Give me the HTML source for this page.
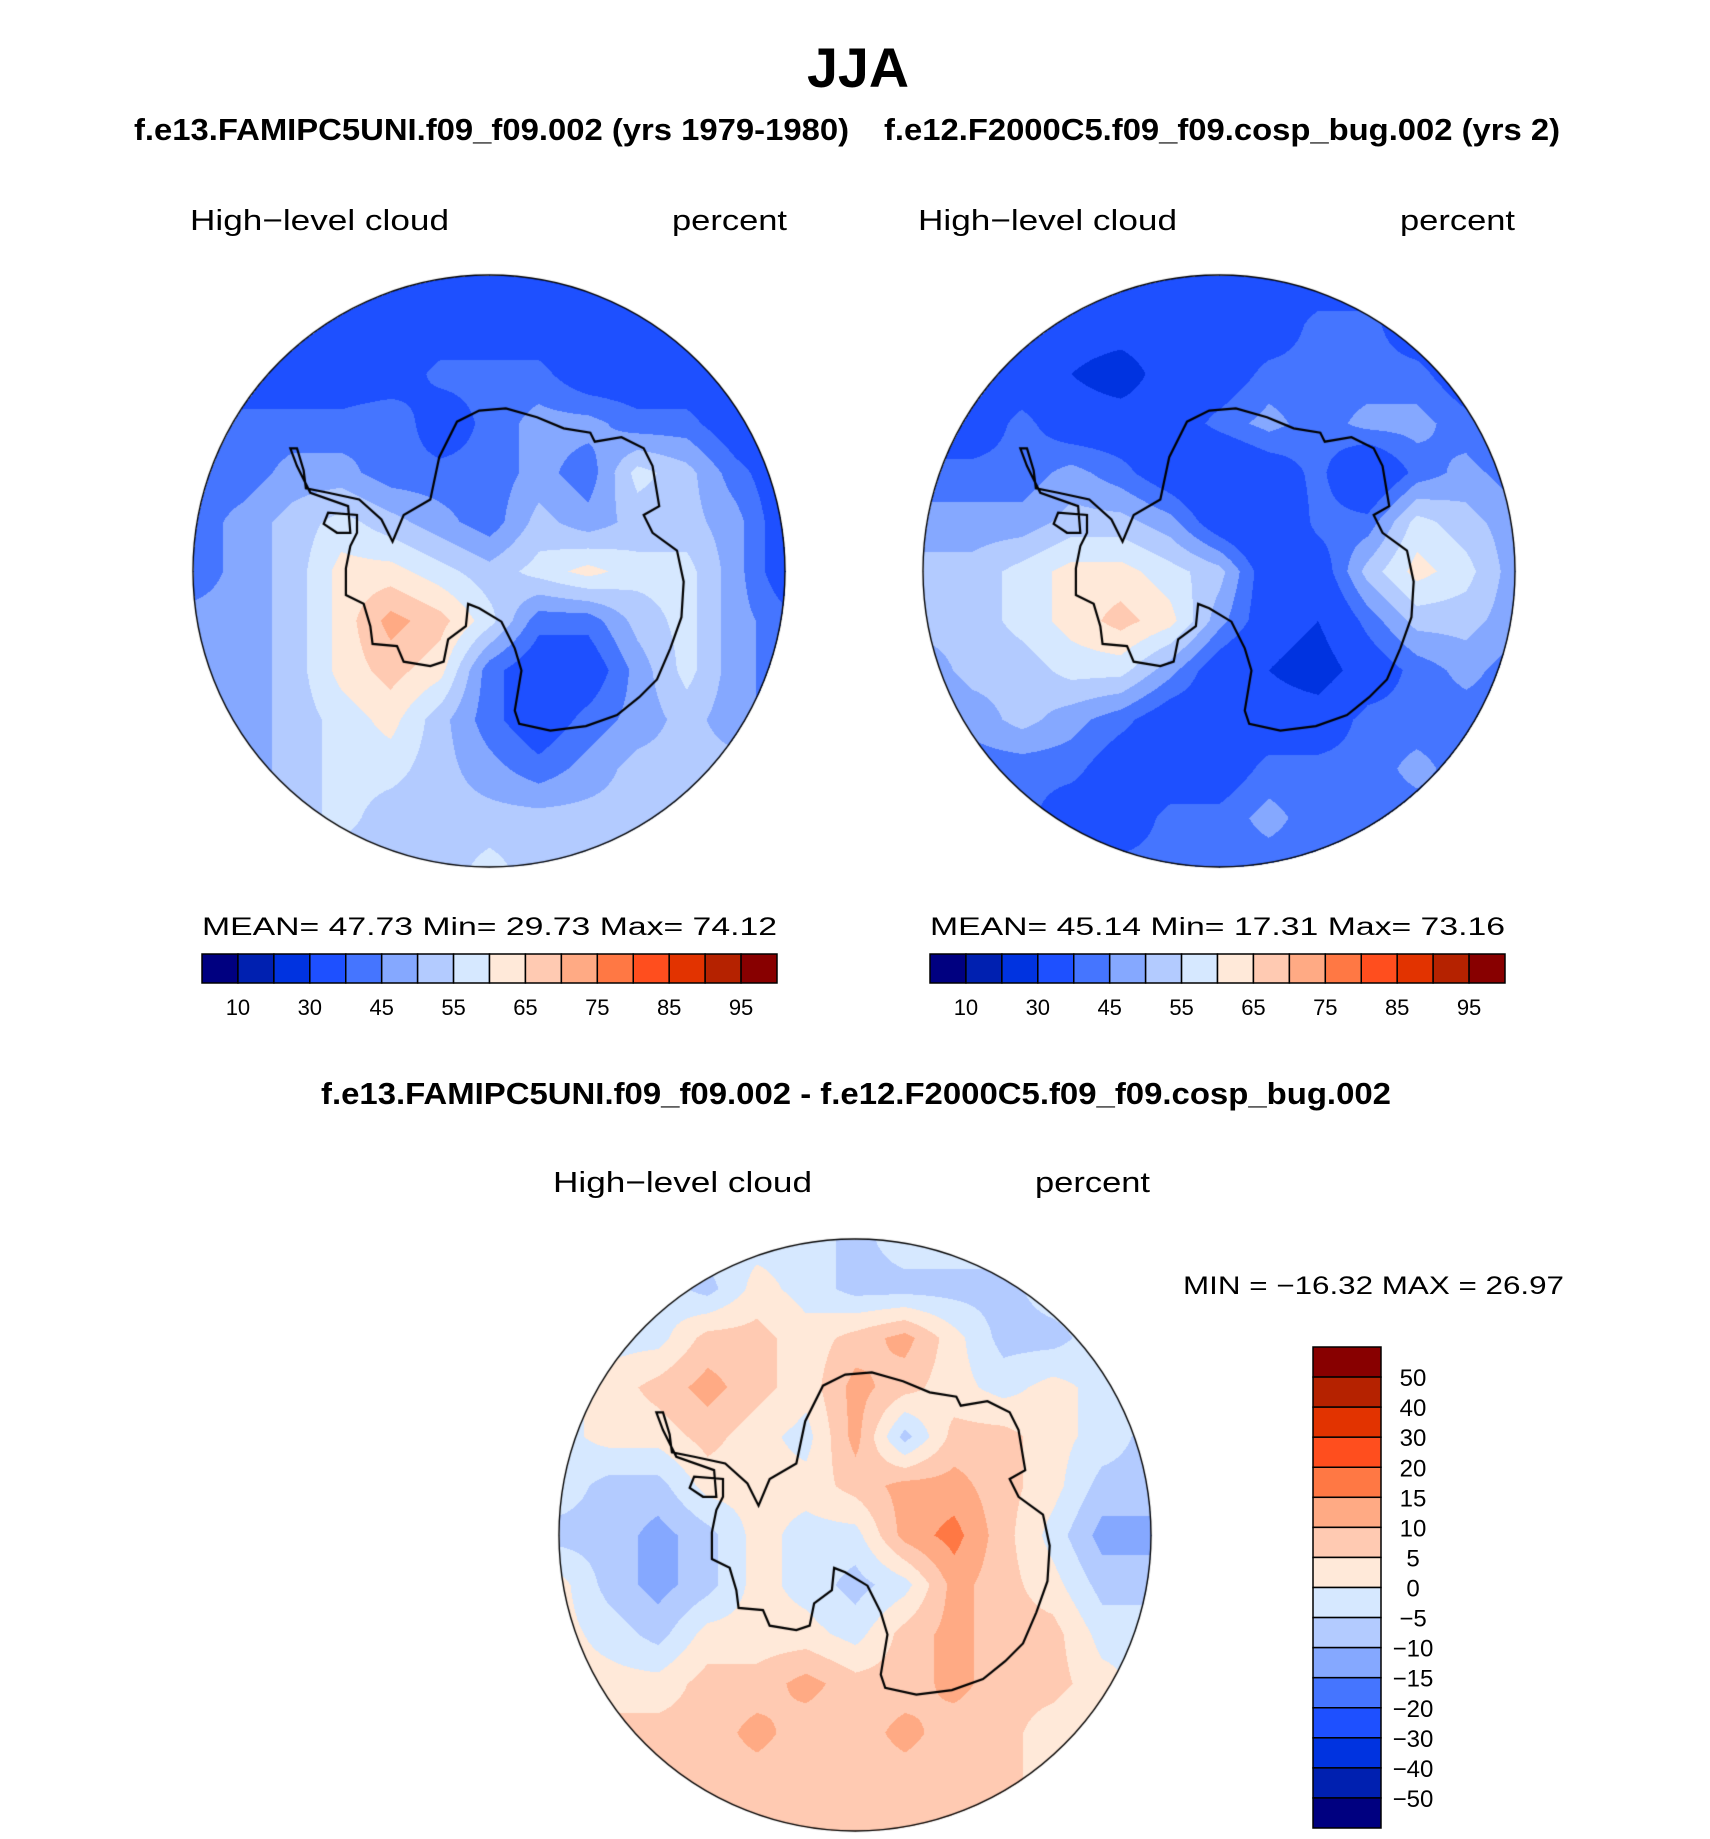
<!DOCTYPE html>
<html><head><meta charset="utf-8">
<style>
html,body{margin:0;padding:0;background:#fff;}
#wrap{position:relative;width:1710px;height:1839px;overflow:hidden;font-family:"Liberation Sans",sans-serif;}
canvas{position:absolute;}
svg{position:absolute;left:0;top:0;}
</style></head>
<body>
<div id="wrap">
<canvas id="m1"></canvas>
<canvas id="m2"></canvas>
<canvas id="m3"></canvas>
<svg id="ov" width="1710" height="1839">
<text x="858" y="87" text-anchor="middle" font-size="56" font-weight="bold" textLength="102" lengthAdjust="spacingAndGlyphs">JJA</text>
<text x="134" y="140" font-size="31" font-weight="bold" textLength="715" lengthAdjust="spacingAndGlyphs">f.e13.FAMIPC5UNI.f09_f09.002 (yrs 1979-1980)</text>
<text x="884" y="140" font-size="31" font-weight="bold" textLength="676" lengthAdjust="spacingAndGlyphs">f.e12.F2000C5.f09_f09.cosp_bug.002 (yrs 2)</text>
<text x="190" y="230" font-size="29" textLength="259" lengthAdjust="spacingAndGlyphs">High−level cloud</text>
<text x="672" y="230" font-size="29" textLength="115" lengthAdjust="spacingAndGlyphs">percent</text>
<text x="918" y="230" font-size="29" textLength="259" lengthAdjust="spacingAndGlyphs">High−level cloud</text>
<text x="1400" y="230" font-size="29" textLength="115" lengthAdjust="spacingAndGlyphs">percent</text>
<text x="202" y="935" font-size="25" textLength="575" lengthAdjust="spacingAndGlyphs">MEAN=   47.73   Min=   29.73   Max=   74.12</text>
<text x="930" y="935" font-size="25" textLength="575" lengthAdjust="spacingAndGlyphs">MEAN=   45.14   Min=   17.31   Max=   73.16</text>
<text x="321" y="1104" font-size="31" font-weight="bold" textLength="1070" lengthAdjust="spacingAndGlyphs">f.e13.FAMIPC5UNI.f09_f09.002 - f.e12.F2000C5.f09_f09.cosp_bug.002</text>
<text x="553" y="1192" font-size="29" textLength="259" lengthAdjust="spacingAndGlyphs">High−level cloud</text>
<text x="1035" y="1192" font-size="29" textLength="115" lengthAdjust="spacingAndGlyphs">percent</text>
<text x="1183" y="1294" font-size="25" textLength="381" lengthAdjust="spacingAndGlyphs">MIN  =  −16.32  MAX  =    26.97</text>
<g id="cb1"></g>
<g id="cb2"></g>
<g id="cb3"></g>
</svg>
</div>
<script>
const colors16 = ['#000080','#0020b0','#0033e0','#1e50ff','#4575ff','#85a8ff','#b3cbff','#d6e8ff','#ffe9d9','#ffcab2','#ffaa84','#ff7844','#ff4e1e','#e23300','#b52200','#880000'];
const levels1 = [10,20,30,40,45,50,55,60,65,70,75,80,85,90,95];
const levels3 = [-50,-40,-30,-20,-15,-10,-5,0,5,10,15,20,30,40,50];
const cbLabels1 = ['10','30','45','55','65','75','85','95'];
const cbLabels3 = ['50','40','30','20','15','10','5','0','−5','−10','−15','−20','−30','−40','−50'];
const grid1 = [
[35,35,35,35,35,35,35,35,35,35,35,35,35],
[35,35,35,35,35,35,35,35,35,35,35,35,35],
[35,35,35,35,35,42,42,42,35,35,35,35,35],
[35,42,42,42,45,35,42,47,47,42,42,35,35],
[42,42,47,47,42,42,42,47,42,57,52,42,35],
[42,47,52,57,52,47,42,52,47,52,52,47,35],
[42,47,52,62,62,57,52,57,62,57,57,47,35],
[47,47,52,62,72,67,57,42,42,52,57,47,42],
[47,47,52,62,67,62,42,35,35,47,57,47,42],
[47,47,52,57,62,52,42,35,42,47,52,47,42],
[47,47,52,57,57,52,47,42,47,52,52,52,47],
[47,52,52,57,52,52,52,52,52,52,52,52,52],
[47,47,52,52,52,52,57,52,52,52,52,47,47]];
const grid2 = [
[35,35,35,35,35,35,35,35,35,35,35,35,35],
[35,35,35,35,35,35,35,35,42,42,35,35,35],
[35,35,35,30,25,35,35,42,42,42,42,35,35],
[35,35,42,35,35,35,42,47,42,47,47,42,35],
[42,42,42,47,42,35,30,35,42,30,42,47,42],
[47,47,47,52,52,47,35,30,42,42,57,52,47],
[52,52,57,62,62,57,52,35,35,52,62,57,47],
[52,52,57,62,67,62,47,35,30,42,52,52,47],
[47,52,52,57,57,47,35,30,25,35,42,47,42],
[42,47,52,47,42,35,35,35,35,42,42,42,42],
[42,42,42,42,35,35,35,42,42,42,47,42,42],
[42,42,42,35,35,42,42,47,42,42,42,42,42],
[35,35,42,42,42,42,42,42,42,42,42,35,35]];
const grid3 = [
[-2,-2,-2,-2,-2,-2,-7,-2,-2,-2,-2,-2,-2],
[-2,-2,-2,-7,2,-2,-7,-7,-7,-7,-2,-2,-2],
[-2,-2,-2,7,7,2,7,12,2,-7,-7,-2,-2],
[-2,2,7,12,7,2,12,7,2,-2,2,-2,-2],
[-2,2,2,7,2,-2,12,-7,7,7,2,-2,-7],
[-2,-7,-7,2,2,2,7,12,12,7,2,-7,-7],
[-7,-7,-12,-7,2,-2,-2,12,17,7,-2,-12,-12],
[2,-7,-12,-7,2,-2,-7,-2,12,7,2,-7,-7],
[2,-2,-7,2,2,2,-2,7,12,7,7,-2,-2],
[2,2,2,7,7,12,7,7,12,7,7,2,-2],
[7,7,7,7,12,7,7,12,7,7,2,-2,-2],
[7,7,7,7,7,7,7,7,7,7,2,2,2],
[7,7,7,7,7,7,7,7,7,2,2,2,2]];
// coastline outline (normalized shape, reference frame centre 762,876 radius 666)
const coast = [[330,600],[345,650],[350,690],[400,700],[470,715],[520,760],[545,810],[570,750],[630,715],[650,620],[690,540],[740,515],[800,510],[870,530],[930,555],[990,565],[1000,585],[1060,575],[1110,600],[1130,640],[1145,730],[1110,750],[1130,790],[1185,830],[1200,900],[1195,980],[1170,1050],[1140,1120],[1100,1160],[1050,1200],[980,1225],[900,1235],[830,1220],[820,1190],[835,1100],[820,1050],[790,990],[740,960],[715,950],[710,1000],[670,1030],[660,1080],[630,1090],[570,1080],[555,1045],[500,1040],[495,1000],[480,950],[440,930],[440,870],[450,820],[465,790],[465,750],[400,745],[390,770],[420,790],[450,790],[445,730],[360,700],[330,640],[315,600]];

function drawMap(id, name, grid, levels, cx, cy, r){
  const cv = document.getElementById(id);
  const size = 2*r+4;
  cv.width = size; cv.height = size;
  cv.style.left = (cx-r-2)+'px'; cv.style.top = (cy-r-2)+'px';
  const ctx = cv.getContext('2d');
  const img = ctx.createImageData(size,size);
  const rgb = colors16.map(c=>[parseInt(c.substr(1,2),16),parseInt(c.substr(3,2),16),parseInt(c.substr(5,2),16)]);
  const n = grid.length-1;
  for(let py=0;py<size;py++){
    for(let px=0;px<size;px++){
      const dx=px-2-r, dy=py-2-r;
      if(dx*dx+dy*dy>r*r) continue;
      let u=(px-2)/(2*r)*n, v=(py-2)/(2*r)*n;
      u=Math.max(0,Math.min(n-1e-6,u)); v=Math.max(0,Math.min(n-1e-6,v));
      const i=Math.floor(v), j=Math.floor(u), fu=u-j, fv=v-i;
      const val=(grid[i][j]*(1-fu)+grid[i][j+1]*fu)*(1-fv)+(grid[i+1][j]*(1-fu)+grid[i+1][j+1]*fu)*fv;
      let k=0; while(k<levels.length && val>=levels[k]) k++;
      const c=rgb[k], o=(py*size+px)*4;
      img.data[o]=c[0];img.data[o+1]=c[1];img.data[o+2]=c[2];img.data[o+3]=255;
    }
  }
  ctx.putImageData(img,0,0);
  ctx.beginPath();
  coast.forEach((p,idx)=>{
    const X=2+r+(p[0]-762)/666*r, Y=2+r+(p[1]-876)/666*r;
    if(idx===0) ctx.moveTo(X,Y); else ctx.lineTo(X,Y);
  });
  ctx.closePath();
  ctx.lineWidth=2.2; ctx.strokeStyle='#000'; ctx.stroke();
  ctx.beginPath(); ctx.arc(2+r,2+r,r,0,Math.PI*2);
  ctx.lineWidth=1.4; ctx.stroke();
}
drawMap('m1','map1',grid1,levels1,489,571,296);
drawMap('m2','map2',grid2,levels1,1219,571,296);
drawMap('m3','map3',grid3,levels3,855,1535,296);

const NS='http://www.w3.org/2000/svg';
function hbar(gid,x0,x1,y0,y1){
  const g=document.getElementById(gid);
  const w=(x1-x0)/colors16.length;
  colors16.forEach((c,i)=>{
    const r=document.createElementNS(NS,'rect');
    
    
    r.setAttribute('x',x0+i*w);r.setAttribute('y',y0);r.setAttribute('width',w);r.setAttribute('height',y1-y0);
    r.setAttribute('fill',c);r.setAttribute('stroke','#000');r.setAttribute('stroke-width','1.5');
    g.appendChild(r);
  });
  cbLabels1.forEach((t,i)=>{
    const tx=document.createElementNS(NS,'text');
    
    
    tx.setAttribute('x',x0+(2*i+1)*w);tx.setAttribute('y',y1+32);
    tx.setAttribute('text-anchor','middle');tx.setAttribute('font-size','22');
    tx.textContent=t; g.appendChild(tx);
  });
}
hbar('cb1',202,777,954,983);
hbar('cb2',930,1505,954,983);
(function(){
  const g=document.getElementById('cb3');
  const x0=1313,x1=1381,y0=1347,y1=1828;
  const h=(y1-y0)/colors16.length;
  colors16.slice().reverse().forEach((c,i)=>{
    const r=document.createElementNS(NS,'rect');
    
    
    r.setAttribute('x',x0);r.setAttribute('y',y0+i*h);r.setAttribute('width',x1-x0);r.setAttribute('height',h);
    r.setAttribute('fill',c);r.setAttribute('stroke','#000');r.setAttribute('stroke-width','1.5');
    g.appendChild(r);
  });
  cbLabels3.forEach((t,i)=>{
    const tx=document.createElementNS(NS,'text');
    
    
    tx.setAttribute('x',1413);tx.setAttribute('y',y0+(i+1)*h+9);
    tx.setAttribute('text-anchor','middle');tx.setAttribute('font-size','24');
    tx.textContent=t; g.appendChild(tx);
  });
})();
</script>
</body></html>
